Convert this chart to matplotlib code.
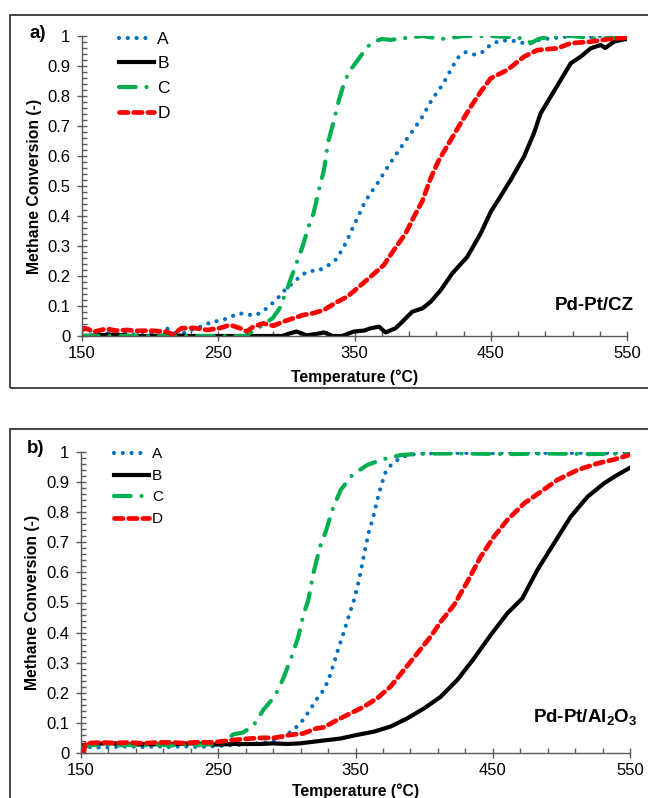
import matplotlib
matplotlib.use('Agg')
import matplotlib.pyplot as plt
from matplotlib.patches import Rectangle
from matplotlib.ticker import MultipleLocator, FixedLocator, FuncFormatter

plt.rcParams['font.family'] = ['Liberation Sans', 'DejaVu Sans']
plt.rcParams['mathtext.fontset'] = 'custom'
plt.rcParams['mathtext.rm'] = 'Liberation Sans'
plt.rcParams['mathtext.bf'] = 'Liberation Sans:bold'

# panel a) Pd-Pt/CZ
a_A_T = [150, 162, 170, 180, 191, 200, 212, 219, 227, 233, 239, 245, 251, 258, 265, 271, 277, 283, 289, 294,
         300, 306, 311, 317, 323, 330, 336, 340, 343.5, 346.7, 349.6, 352.8, 355.7, 359, 367, 375, 383, 391.5,
         399.5, 406.7, 415, 422, 425.7, 431.6, 438.2, 444.8, 450, 456.8, 464, 471, 477.6, 484, 490, 500, 510,
         520, 530, 540, 550]
a_A_c = [0.027, 0.009, 0.009, 0.012, 0.003, 0.005, 0.026, 0.01, 0.011, 0.027, 0.033, 0.048, 0.05, 0.061, 0.076,
         0.072, 0.068, 0.083, 0.106, 0.128, 0.159, 0.181, 0.203, 0.217, 0.217, 0.233, 0.253, 0.281, 0.309, 0.34,
         0.37, 0.398, 0.429, 0.457, 0.51, 0.568, 0.622, 0.676, 0.729, 0.787, 0.84, 0.898, 0.927, 0.946, 0.938,
         0.948, 0.972, 0.984, 0.986, 0.98, 0.972, 0.986, 0.99, 0.995, 1.0, 0.995, 1.0, 1.0, 1.0]
a_B_T = [150, 160, 175, 185, 200, 215, 230, 245, 260, 275, 290, 297, 302.7, 307.6, 315, 324.7, 327.6, 334, 341,
         349.6, 357, 362, 368, 372.9, 380.2, 386.3, 392.4, 399.8, 405.9, 413.3, 421.8, 432.8, 442.6, 450, 456,
         464.6, 474.4, 481.7, 486.6, 494, 501.3, 508.7, 516, 523.4, 530.7, 534, 540.5, 547.8, 550]
a_B_c = [0.0, 0.002, 0.005, 0.0, 0.0, 0.002, 0.0, 0.0, 0.0, 0.0, 0.0, 0.0, 0.009, 0.015, 0.002, 0.009, 0.012, 0.0,
         0.0, 0.015, 0.018, 0.026, 0.031, 0.012, 0.026, 0.053, 0.081, 0.092, 0.114, 0.153, 0.209, 0.264, 0.342,
         0.414, 0.457, 0.52, 0.598, 0.676, 0.742, 0.798, 0.853, 0.909, 0.931, 0.959, 0.97, 0.96, 0.981, 0.989, 0.99]
a_C_T = [150, 200, 250, 270, 283, 290, 295, 300, 306, 312, 316, 320, 324.7, 327.6, 330.5, 335, 338.6, 342.3, 346,
         352, 359.4, 364.3, 370, 376.6, 390, 400, 414, 430, 450, 470, 480, 485, 495, 510, 530, 550]
a_C_c = [0.0, 0.0, 0.0, 0.0, 0.037, 0.06, 0.092, 0.15, 0.225, 0.3, 0.361, 0.41, 0.503, 0.553, 0.644, 0.72, 0.787,
         0.842, 0.881, 0.917, 0.964, 0.981, 0.99, 0.987, 0.995, 1.0, 0.99, 1.0, 1.0, 0.995, 0.977, 0.99, 1.0, 1.0,
         0.99, 1.0]
a_D_T = [150, 152, 159.5, 168, 175, 183, 190, 200, 212, 217, 223, 232, 242, 251, 258.6, 266, 271, 275.7, 283,
         290.4, 297.8, 305, 312.4, 319.8, 327.6, 337.4, 344.7, 352, 361.9, 371.6, 379, 387.5, 393.7, 399.8, 405.9,
         412, 420.6, 427.9, 435.3, 442.6, 450, 462.2, 474.4, 484.2, 498.9, 508.7, 523.4, 535.6, 547.8, 550]
a_D_c = [0.02, 0.026, 0.015, 0.024, 0.018, 0.02, 0.017, 0.018, 0.014, 0.005, 0.026, 0.027, 0.02, 0.026, 0.037,
         0.026, 0.015, 0.031, 0.042, 0.034, 0.048, 0.059, 0.07, 0.076, 0.087, 0.114, 0.131, 0.159, 0.198, 0.237,
         0.287, 0.342, 0.398, 0.45, 0.526, 0.587, 0.653, 0.709, 0.764, 0.814, 0.859, 0.887, 0.931, 0.953, 0.959,
         0.976, 0.981, 0.989, 0.994, 0.995]

# panel b) Pd-Pt/Al2O3
b_A_T = [150, 155, 165, 175, 185, 195, 205, 215, 225, 235, 245, 255, 265, 275, 285, 292, 297.4, 304.7, 310.8,
         316.8, 322.9, 327, 330.7, 334.3, 338, 341.6, 345.3, 348.9, 352.6, 355, 357.4, 359.8, 363, 365.9, 368.8,
         372, 376.8, 384.1, 392, 400, 420, 450, 480, 510, 550]
b_A_c = [0.02, 0.02, 0.018, 0.02, 0.022, 0.02, 0.022, 0.02, 0.022, 0.02, 0.022, 0.025, 0.027, 0.03, 0.035, 0.045,
         0.054, 0.076, 0.104, 0.143, 0.187, 0.21, 0.248, 0.298, 0.354, 0.403, 0.458, 0.508, 0.575, 0.63, 0.686,
         0.735, 0.785, 0.841, 0.89, 0.934, 0.962, 0.984, 0.992, 0.995, 0.997, 0.996, 0.997, 0.997, 0.997]
b_B_T = [150, 160, 170, 180, 190, 200, 210, 220, 230, 240, 250, 260, 270, 280, 290, 300, 309.5, 324, 339, 351,
         363.5, 375.6, 387.7, 399.9, 412.1, 424.2, 436.3, 448.5, 460.6, 471.6, 482.5, 494.7, 506.8, 519, 531.1,
         540.8, 549.3]
b_B_c = [0.025, 0.03, 0.033, 0.03, 0.028, 0.03, 0.028, 0.03, 0.032, 0.03, 0.028, 0.03, 0.03, 0.03, 0.032, 0.03,
         0.032, 0.04, 0.048, 0.06, 0.071, 0.088, 0.115, 0.148, 0.187, 0.243, 0.314, 0.392, 0.464, 0.514, 0.608,
         0.697, 0.785, 0.851, 0.896, 0.924, 0.946]
b_C_T = [150, 155, 165, 175, 185, 195, 205, 215, 225, 235, 245, 255, 261, 268, 275.5, 282.8, 291.3, 297.4, 303.5,
         308.3, 312, 315.6, 319.3, 324.1, 328.3, 333.1, 339.2, 347.7, 358.6, 369.5, 383, 400, 430, 460, 490, 520, 550]
b_C_c = [0.015, 0.025, 0.028, 0.025, 0.027, 0.025, 0.028, 0.025, 0.028, 0.026, 0.03, 0.04, 0.062, 0.068, 0.09,
         0.143, 0.189, 0.248, 0.32, 0.386, 0.458, 0.508, 0.597, 0.685, 0.735, 0.807, 0.874, 0.924, 0.957, 0.975,
         0.99, 0.995, 0.995, 0.993, 0.995, 0.993, 0.995]
b_D_T = [152, 153, 156.6, 165, 175, 185, 195, 205, 215, 225, 235, 245, 255, 261, 270, 280, 292, 302, 312, 321.6,
         327, 336.7, 346.5, 356.2, 365.9, 375.6, 385.3, 395, 404.8, 412.1, 421.8, 431.5, 441.2, 450.9, 460.6,
         472.8, 485, 497, 511.6, 526.2, 538.3, 549.3]
b_D_c = [0.0, 0.03, 0.033, 0.035, 0.033, 0.035, 0.032, 0.035, 0.035, 0.033, 0.036, 0.035, 0.04, 0.043, 0.047,
         0.05, 0.051, 0.06, 0.065, 0.082, 0.085, 0.11, 0.132, 0.154, 0.182, 0.221, 0.276, 0.331, 0.387, 0.436,
         0.492, 0.569, 0.652, 0.719, 0.774, 0.829, 0.868, 0.907, 0.94, 0.962, 0.975, 0.99]

names = ['A', 'B', 'C', 'D']
x_ticks = [150, 250, 350, 450, 550]

fig = plt.figure(figsize=(6.48, 7.98), dpi=100)

# frames around each panel (open on the right / bottom like the cropped original)
fig.patches.append(Rectangle((10/648, 1-388/798), 1.2, 373/798, transform=fig.transFigure,
                             fill=False, edgecolor='#262626', lw=1.2))
fig.patches.append(Rectangle((10/648, -0.2), 1.2, 0.2 + 1-429/798, transform=fig.transFigure,
                             fill=False, edgecolor='#262626', lw=1.2))

ax_a = fig.add_axes([82/648, 1-336/798, 545/648, 300/798])
ax_b = fig.add_axes([81/648, 1-753/798, 549/648, 301/798])


def style(ax, data, label, tag, label_y, leg_x, leg_y, leg_size, leg_space, hlen, ylab_x, xlab_y):
    (AT, Ac), (BT, Bc), (CT, Cc), (DT, Dc) = data
    ax.plot(AT, Ac, color='#0070C0', lw=3.0, ls=(0, (0.01, 2.1)), dash_capstyle='round', label=names[0])
    ax.plot(BT, Bc, color='black', lw=3.0, label=names[1])
    ax.plot(CT, Cc, color='#00B050', lw=3.0, ls=(0, (4.0, 2.6, 0.01, 2.6)), dash_capstyle='round',
            label=names[2])
    ax.plot(DT, Dc, color='#FF0000', lw=3.4, ls=(0, (1.8, 1.2)), dash_capstyle='round', label=names[3])
    ax.set_xlim(150, 550)
    ax.set_ylim(0, 1)
    ax.spines['top'].set_visible(False)
    ax.spines['right'].set_visible(False)
    for s in ['left', 'bottom']:
        ax.spines[s].set_color('#595959')
        ax.spines[s].set_linewidth(1.0)
    ax.xaxis.set_major_locator(FixedLocator(x_ticks))
    ax.xaxis.set_minor_locator(FixedLocator(list(range(170, 550, 20))))
    ax.yaxis.set_major_locator(MultipleLocator(0.1))
    ax.yaxis.set_minor_locator(MultipleLocator(0.02))
    ax.yaxis.set_major_formatter(FuncFormatter(lambda v, p: '%g' % round(v, 2)))
    ax.tick_params(which='major', direction='inout', length=7, width=1, color='#595959',
                   labelsize=12, labelcolor='black')
    ax.tick_params(which='minor', direction='in', length=3.5, width=1, color='#595959')
    ax.tick_params(axis='x', which='major', pad=4)
    ax.tick_params(axis='y', which='major', pad=5)
    ax.set_xlabel('Temperature (\u00b0C)', fontsize=11.3, fontweight='bold')
    ax.xaxis.set_label_coords(0.5, xlab_y)
    ax.set_ylabel('Methane Conversion (-)', fontsize=11.3, fontweight='bold')
    ax.yaxis.set_label_coords(ylab_x, 0.5)
    ax.text(1.013, label_y, label, transform=ax.transAxes, ha='right', va='center',
            fontsize=13.5, fontweight='bold')
    ax.text(-0.082, 1.01, tag, transform=ax.transAxes, ha='center', va='center',
            fontsize=13.5, fontweight='bold')
    ax.legend(loc='upper left', bbox_to_anchor=(leg_x, leg_y), frameon=False, fontsize=leg_size,
              handlelength=hlen, handletextpad=0.2, labelspacing=leg_space, borderpad=0, borderaxespad=0)


style(ax_a, [(a_A_T, a_A_c), (a_B_T, a_B_c), (a_C_T, a_C_c), (a_D_T, a_D_c)], 'Pd-Pt/CZ', 'a)', 0.1,
      0.068, 1.015, 12.5, 0.55, 2.0, -0.074, -0.113)
style(ax_b, [(b_A_T, b_A_c), (b_B_T, b_B_c), (b_C_T, b_C_c), (b_D_T, b_D_c)],
      r'Pd-Pt/Al$_\mathbf{2}$O$_\mathbf{3}$', 'b)', 0.116, 0.06, 1.015, 11, 0.49, 2.3, -0.074, -0.1)

fig.savefig('out.png', dpi=100)
